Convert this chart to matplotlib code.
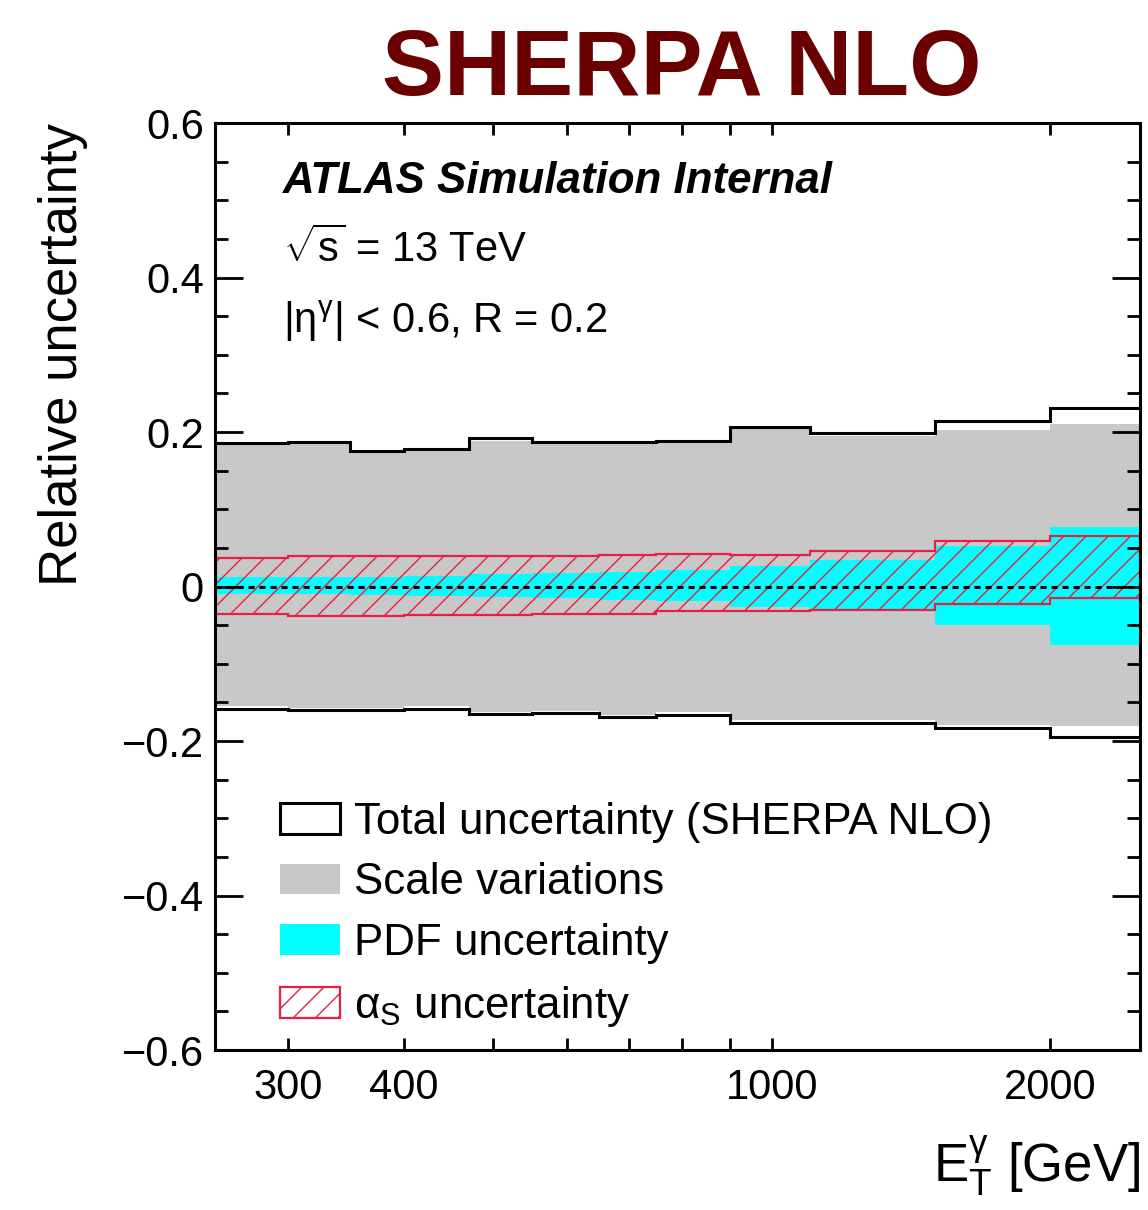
import numpy as np
import matplotlib
matplotlib.use("Agg")
import matplotlib.pyplot as plt
import matplotlib.ticker as ticker
from matplotlib.patches import Patch

plt.rcParams['font.family'] = ['Liberation Sans', 'DejaVu Sans']
plt.rcParams['mathtext.fontset'] = 'custom'
plt.rcParams['mathtext.rm'] = 'Liberation Sans'
plt.rcParams['mathtext.it'] = 'Liberation Sans:italic'
plt.rcParams['mathtext.bf'] = 'Liberation Sans:bold'
plt.rcParams['mathtext.default'] = 'regular'
plt.rcParams['hatch.linewidth'] = 0.5

# bin edges in E_T [GeV]
edges = [250, 300, 350, 400, 470, 550, 650, 750, 900, 1100, 1500, 2000, 2500]

# total uncertainty (up/down)
total_up = [0.186, 0.187, 0.176, 0.178, 0.192, 0.187, 0.187, 0.189, 0.207, 0.199, 0.214, 0.231]
total_dn = [-0.158, -0.160, -0.160, -0.158, -0.165, -0.164, -0.169, -0.166, -0.176, -0.176, -0.183, -0.195]

# scale variations
scale_up = [0.183, 0.184, 0.173, 0.175, 0.189, 0.184, 0.184, 0.186, 0.204, 0.195, 0.203, 0.210]
scale_dn = [-0.155, -0.157, -0.157, -0.155, -0.162, -0.161, -0.166, -0.163, -0.173, -0.173, -0.179, -0.181]

# PDF uncertainty
pdf_up = [0.012, 0.012, 0.013, 0.014, 0.016, 0.018, 0.019, 0.021, 0.026, 0.034, 0.052, 0.077]
pdf_dn = [-0.010, -0.010, -0.011, -0.012, -0.013, -0.015, -0.017, -0.019, -0.026, -0.030, -0.050, -0.076]

# alpha_s uncertainty
as_up = [0.037, 0.039, 0.039, 0.039, 0.040, 0.040, 0.041, 0.042, 0.041, 0.046, 0.059, 0.066]
as_dn = [-0.036, -0.038, -0.038, -0.037, -0.037, -0.036, -0.036, -0.032, -0.032, -0.030, -0.022, -0.015]

xlabels_shown = [300, 400, 1000, 2000]

grey = '#c8c8c8'
cyan = '#00ffff'
red = '#e8203f'

fig = plt.figure(figsize=(5.74, 6.05), dpi=200)
ax = fig.add_axes([0.1873, 0.1322, 0.8057, 0.7661])

ax.stairs(scale_up, edges, baseline=scale_dn, fill=True, color=grey, lw=0)
ax.stairs(pdf_up, edges, baseline=pdf_dn, fill=True, color=cyan, lw=0)
ax.stairs(as_up, edges, baseline=as_dn, fill=True, facecolor='none',
          edgecolor=red, hatch='///', lw=0.8)
ax.stairs(total_up, edges, baseline=None, color='black', lw=1.1)
ax.stairs(total_dn, edges, baseline=None, color='black', lw=1.1)
ax.axhline(0, color='black', lw=1.1, ls=(0, (2.0, 1.6)))

ax.set_xscale('log')
ax.set_xlim(250, 2500)
ax.set_ylim(-0.6, 0.6)

ax.xaxis.set_major_locator(ticker.FixedLocator([300, 400, 500, 600, 700, 800, 900, 1000, 2000]))
ax.xaxis.set_minor_locator(ticker.NullLocator())
ax.xaxis.set_major_formatter(ticker.FuncFormatter(
    lambda v, p: '%d' % v if int(round(v)) in xlabels_shown else ''))
ax.yaxis.set_major_locator(ticker.MultipleLocator(0.2))
ax.yaxis.set_minor_locator(ticker.MultipleLocator(0.05))
ax.yaxis.set_major_formatter(ticker.FuncFormatter(
    lambda v, p: ('%g' % round(v, 2)).replace('-', '\u2212')))

ax.tick_params(axis='x', which='major', direction='in', top=True, bottom=True,
               length=4.3, width=1.0, labelsize=15, pad=6.5)
ax.tick_params(axis='y', which='major', direction='in', left=True, right=True,
               length=10, width=1.0, labelsize=15, pad=4)
ax.tick_params(axis='y', which='minor', direction='in', left=True, right=True,
               length=4.7, width=1.0)
for s in ax.spines.values():
    s.set_linewidth(1.1)

ax.set_ylabel('Relative uncertainty', fontsize=19, loc='top')
ax.yaxis.set_label_coords(-0.137, 1.0)
ax.set_xlabel(r'$E_{T}^{\gamma}$ [GeV]', fontsize=19, loc='right')
ax.xaxis.set_label_coords(1.0, -0.09)

ax.text(0.0735, 0.9245, 'ATLAS Simulation Internal', transform=ax.transAxes,
        fontsize=15.8, fontweight='bold', fontstyle='italic', va='baseline')
ax.text(0.0735, 0.850, r'$\sqrt{s}$ = 13 TeV', transform=ax.transAxes,
        fontsize=15, va='baseline')
ax.text(0.0735, 0.7735, r'$|\eta^{\gamma}|$ < 0.6, R = 0.2', transform=ax.transAxes,
        fontsize=15, va='baseline')

handles = [
    Patch(facecolor='none', edgecolor='black', lw=1.1),
    Patch(facecolor=grey, edgecolor='none'),
    Patch(facecolor=cyan, edgecolor='none'),
    Patch(facecolor='white', edgecolor=red, hatch='///', lw=0.8),
]
labels = ['Total uncertainty (SHERPA NLO)', 'Scale variations', 'PDF uncertainty',
          r'$\alpha_{S}$ uncertainty']
ax.legend(handles, labels, loc='upper left', bbox_to_anchor=(0.0703, 0.268),
          frameon=False, fontsize=15.8, handlelength=1.36, handleheight=0.7,
          handletextpad=0.33, labelspacing=0.45, borderpad=0, borderaxespad=0)

fig.text(0.594, 0.9215, 'SHERPA NLO', fontsize=33.5, fontweight='bold',
         color='#6b0000', ha='center', va='baseline')

fig.savefig('out.png', dpi=200)
